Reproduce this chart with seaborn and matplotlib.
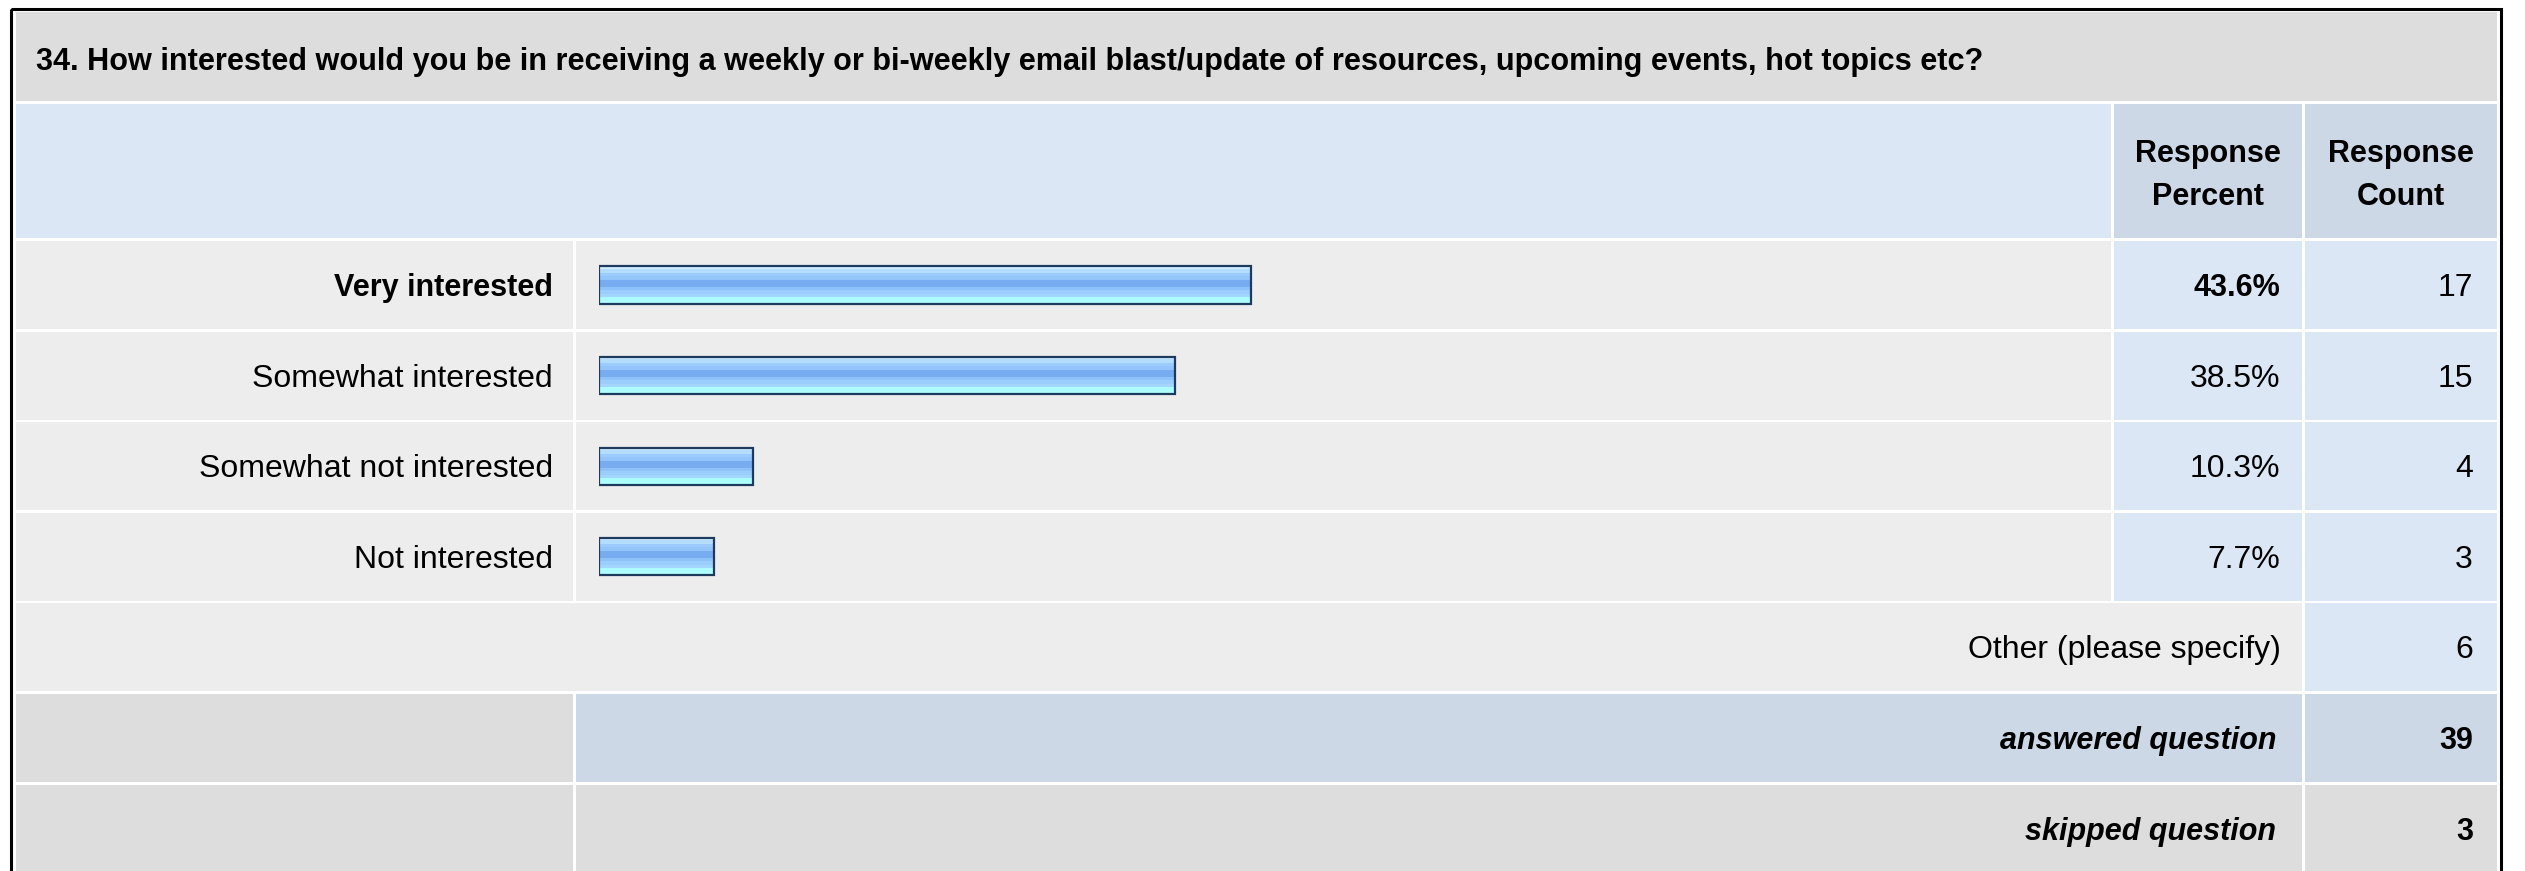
import numpy as np
import pandas as pd
import matplotlib
matplotlib.use('Agg')
import matplotlib.pyplot as plt
from matplotlib.patches import Rectangle
from matplotlib.colors import to_rgb
import seaborn as sns

# data
question = '34. How interested would you be in receiving a weekly or bi-weekly email blast/update of resources, upcoming events, hot topics etc?'
answers = ['Very interested', 'Somewhat interested', 'Somewhat not interested', 'Not interested']
percents = [43.6, 38.5, 10.3, 7.7]
counts = [17, 15, 4, 3]
other_label = 'Other (please specify)'
other_count = 6
answered = 39
skipped = 3

sns.set_style('white')
plt.rcParams['font.family'] = ['Liberation Sans', 'DejaVu Sans']
plt.rcParams['text.color'] = 'black'

W, H = 2525, 871
fig = plt.figure(figsize=(W / 100, H / 100), dpi=100)
fig.patch.set_facecolor('white')
ax = fig.add_axes([0, 0, 1, 1])
ax.set_xlim(0, W)
ax.set_ylim(H, 0)
ax.axis('off')

GREY = '#dddddd'
LIGHT = '#ededed'
BLUE1 = '#dce7f5'
BLUE2 = '#ccd8e6'

# columns (pixel)
c_lab = (16, 573)
c_bar = (576, 2111)
c_pct = (2114, 2302)
c_cnt = (2305, 2497)

def cell(x0, x1, y0, y1, color):
    ax.add_patch(Rectangle((x0, y0), x1 - x0, y1 - y0, facecolor=color, edgecolor='none', zorder=1))

# title row
cell(16, 2497, 12, 101, GREY)
# header row
cell(c_lab[0], c_bar[1], 104, 238, BLUE1)
cell(c_pct[0], c_pct[1], 104, 238, BLUE2)
cell(c_cnt[0], c_cnt[1], 104, 238, BLUE2)

pitch = 90.6
row_top = [241 + pitch * k for k in range(7)]
row_h = 88

for i in range(len(answers)):
    y0 = row_top[i]
    cell(c_lab[0], c_lab[1], y0, y0 + row_h, LIGHT)
    cell(c_bar[0], c_bar[1], y0, y0 + row_h, LIGHT)
    cell(c_pct[0], c_pct[1], y0, y0 + row_h, BLUE1)
    cell(c_cnt[0], c_cnt[1], y0, y0 + row_h, BLUE1)

y0 = row_top[4]
cell(c_lab[0], c_pct[1], y0, y0 + row_h, LIGHT)
cell(c_cnt[0], c_cnt[1], y0, y0 + row_h, BLUE1)
y0 = row_top[5]
cell(c_lab[0], c_lab[1], y0, y0 + row_h, GREY)
cell(c_bar[0], c_pct[1], y0, y0 + row_h, BLUE2)
cell(c_cnt[0], c_cnt[1], y0, y0 + row_h, BLUE2)
y0 = row_top[6]
cell(c_lab[0], c_lab[1], y0, y0 + row_h, GREY)
cell(c_bar[0], c_pct[1], y0, y0 + row_h, GREY)
cell(c_cnt[0], c_cnt[1], y0, y0 + row_h, GREY)

# outer frame
ax.add_patch(Rectangle((11, 9.5), 2490, 880, facecolor='none', edgecolor='black', linewidth=2.2, zorder=5))

fs = 22     # bold text
fr = 23     # regular text
base_off = 11

# title, fitted to the reference width
t = ax.text(36, 70, question, fontsize=fs, fontweight='bold', ha='left', va='baseline', zorder=6)
r = fig.canvas.get_renderer()
t.set_fontsize(fs * 1942 / t.get_window_extent(r).width)

# header
for cx in [(c_pct[0] + c_pct[1]) / 2, (c_cnt[0] + c_cnt[1]) / 2]:
    ax.text(cx, 162, 'Response', fontsize=fs, fontweight='bold', ha='center', va='baseline', zorder=6)
ax.text((c_pct[0] + c_pct[1]) / 2, 205, 'Percent', fontsize=fs, fontweight='bold', ha='center', va='baseline', zorder=6)
ax.text((c_cnt[0] + c_cnt[1]) / 2, 205, 'Count', fontsize=fs, fontweight='bold', ha='center', va='baseline', zorder=6)

top = int(np.argmax(percents))
for i, (a, p, n) in enumerate(zip(answers, percents, counts)):
    yb = row_top[i] + row_h / 2 + base_off
    w = 'bold' if i == top else 'normal'
    s = fs if i == top else fr
    ax.text(553, yb, a, fontsize=s, fontweight=w, ha='right', va='baseline', zorder=6)
    ax.text(2280, yb, f'{p:.1f}%', fontsize=s, fontweight=w, ha='right', va='baseline', zorder=6)
    ax.text(2473, yb, str(n), fontsize=fr, ha='right', va='baseline', zorder=6)

yb = row_top[4] + row_h / 2 + base_off
ax.text(2281, yb, other_label, fontsize=fr, ha='right', va='baseline', zorder=6)
ax.text(2473, yb, str(other_count), fontsize=fr, ha='right', va='baseline', zorder=6)
yb = row_top[5] + row_h / 2 + base_off
ax.text(2276, yb, 'answered question', fontsize=fs, fontweight='bold', style='italic', ha='right', va='baseline', zorder=6)
ax.text(2473, yb, str(answered), fontsize=fs, fontweight='bold', ha='right', va='baseline', zorder=6)
yb = row_top[6] + row_h / 2 + base_off
ax.text(2276, yb, 'skipped question', fontsize=fs, fontweight='bold', style='italic', ha='right', va='baseline', zorder=6)
ax.text(2473, yb, str(skipped), fontsize=fs, fontweight='bold', ha='right', va='baseline', zorder=6)

# bars
bx0, bx1 = 599, 2095
by0 = row_top[0] - 1.3
by1 = by0 + pitch * 4
bax = fig.add_axes([bx0 / W, 1 - by1 / H, (bx1 - bx0) / W, (by1 - by0) / H])
bax.patch.set_alpha(0)
df = pd.DataFrame({'answer': answers, 'percent': percents})
sns.barplot(data=df, x='percent', y='answer', order=answers, orient='h', ax=bax,
            width=0.41, color='#8fc1fa', edgecolor='#1e3a5c', linewidth=1.6, zorder=3)

grad = ['#d2ecff', '#b4dcff', '#9ccbff', '#93c4fc', '#78acf0', '#78acf0',
        '#8ec2fa', '#9ccdff', '#a3d6ff', '#acfcff', '#b0ffff']
img = np.array([to_rgb(c) for c in grad])[:, None, :]
for p in bax.patches:
    x, y, w, h = p.get_x(), p.get_y(), p.get_width(), p.get_height()
    im = bax.imshow(img, extent=(x, x + w, y + h, y), origin='upper', aspect='auto',
                    interpolation='nearest', zorder=2)
    im.set_clip_path(p)
    p.set_facecolor('none')

bax.set_xlim(0, 100)
bax.set_ylim(3.5, -0.5)
bax.axis('off')

fig.savefig('out.png', dpi=100)
plt.close(fig)
